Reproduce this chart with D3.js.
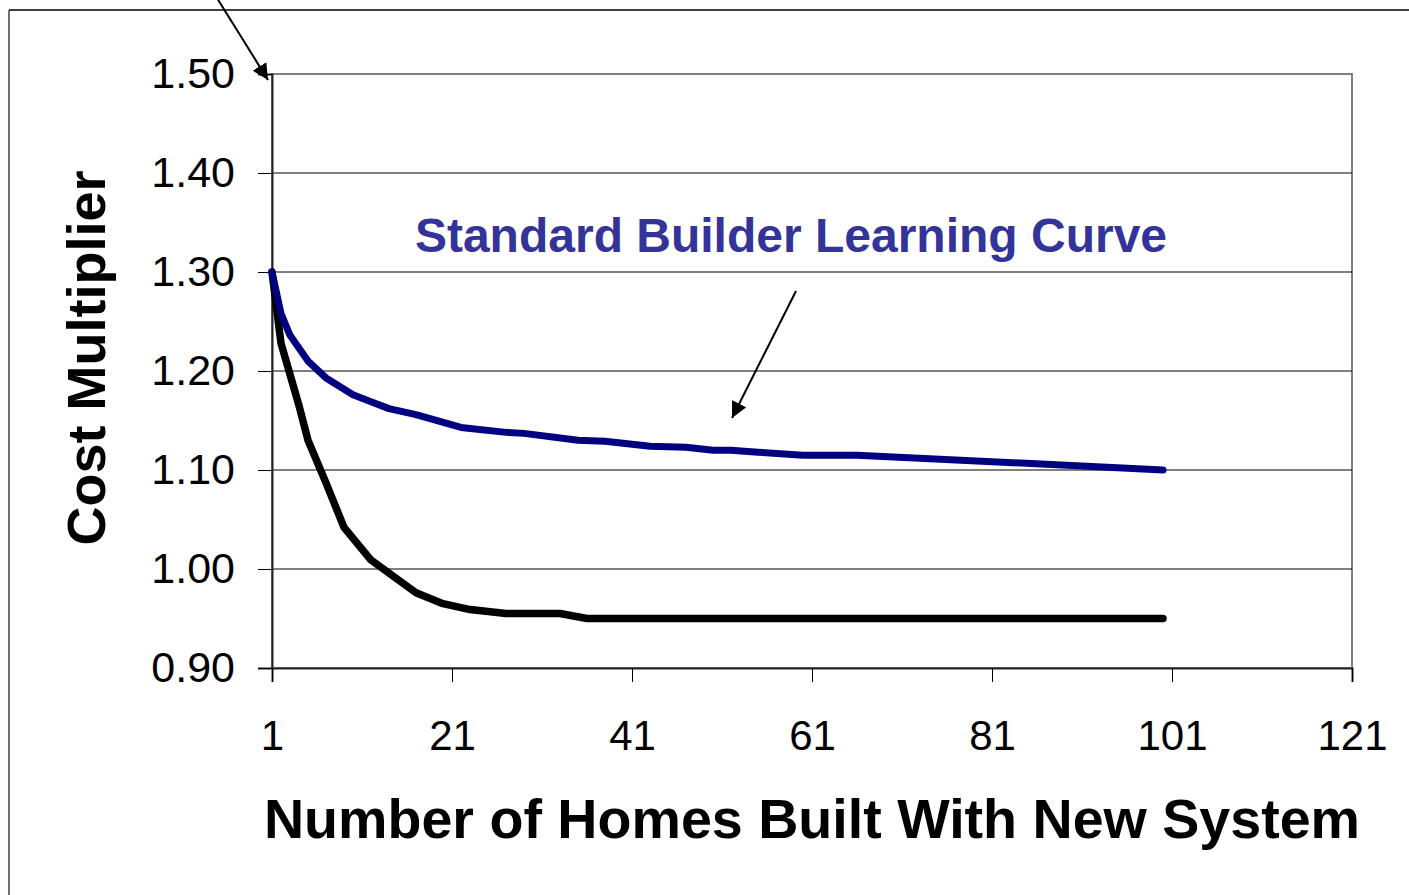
<!DOCTYPE html>
<html>
<head>
<meta charset="utf-8">
<script src="https://cdn.jsdelivr.net/npm/d3@7"></script>
<style>
  body { margin: 0; background: #fff; }
  svg { display: block; font-family: "Liberation Sans", Arial, sans-serif; }
</style>
</head>
<body>
<svg id="chart"></svg>
<script>
var width = 1409;
var height = 895;

// homes built (x) and cost multiplier (y)
var homesStandard = [1, 2, 3, 5, 7, 10, 12, 14, 17, 22, 27, 29, 35, 38, 43, 47, 50, 52, 55, 60, 66, 100];
var costStandard = [1.300, 1.258, 1.236, 1.210, 1.193, 1.176, 1.169, 1.162, 1.156, 1.143, 1.138, 1.137, 1.130, 1.129, 1.124, 1.123, 1.120, 1.120, 1.118, 1.115, 1.115, 1.100];

var homesNew = [1, 2, 4, 5, 7, 9, 12, 17, 20, 23, 27, 33, 36, 100];
var costNew = [1.300, 1.228, 1.165, 1.130, 1.087, 1.042, 1.009, 0.976, 0.965, 0.959, 0.955, 0.955, 0.950, 0.950];

var xTicks = [1, 21, 41, 61, 81, 101, 121];
var yTicks = [0.90, 1.00, 1.10, 1.20, 1.30, 1.40, 1.50];

var svg = d3.select("#chart")
  .attr("width", width)
  .attr("height", height);

var x = d3.scaleLinear().domain([1, 121]).range([272, 1352]);
var y = d3.scaleLinear().domain([0.9, 1.5]).range([668, 74]);

// outer frame (only top and left edge visible)
svg.append("line").attr("x1", 9).attr("y1", 10).attr("x2", 1409).attr("y2", 10)
  .style("stroke", "#404040").style("stroke-width", 2);
svg.append("line").attr("x1", 9).attr("y1", 10).attr("x2", 9).attr("y2", 895)
  .style("stroke", "#404040").style("stroke-width", 1.5);

// plot area border
svg.append("rect")
  .attr("x", x(1)).attr("y", y(1.5))
  .attr("width", x(121) - x(1)).attr("height", y(0.9) - y(1.5))
  .style("fill", "none").style("stroke", "#808080").style("stroke-width", 2);

// gridlines
svg.append("g").selectAll("line")
  .data(yTicks.filter(function (d) { return d > 0.95 && d < 1.45; }))
  .enter().append("line")
  .attr("x1", x(1)).attr("x2", x(121))
  .attr("y1", function (d) { return y(d); })
  .attr("y2", function (d) { return y(d); })
  .style("stroke", "#000").style("stroke-width", 1);

// y axis
var yAxis = svg.append("g")
  .attr("transform", "translate(" + x(1) + ",0)")
  .call(d3.axisLeft(y).tickValues(yTicks).tickSize(14).tickPadding(23).tickFormat(d3.format(".2f")));
yAxis.select(".domain").style("stroke", "#222").style("stroke-width", 2);
yAxis.selectAll(".tick line").style("stroke", "#000");
yAxis.selectAll("text").style("font-size", "43px").style("fill", "#000")
  .style("font-family", "'Liberation Sans', Arial, sans-serif");

// x axis
var xAxis = svg.append("g")
  .attr("transform", "translate(0," + y(0.9) + ")")
  .call(d3.axisBottom(x).tickValues(xTicks).tickSize(14).tickPadding(38).tickFormat(d3.format("d")));
xAxis.select(".domain").style("stroke", "#222").style("stroke-width", 2);
xAxis.selectAll(".tick line").style("stroke", "#000");
xAxis.selectAll("text").style("font-size", "42px").style("fill", "#000")
  .style("font-family", "'Liberation Sans', Arial, sans-serif");

var line = d3.line()
  .x(function (d) { return x(d[0]); })
  .y(function (d) { return y(d[1]); });

// new system curve (drawn first, standard curve lies over it)
svg.append("path")
  .datum(d3.zip(homesNew, costNew))
  .attr("d", line)
  .style("fill", "none").style("stroke", "#000")
  .style("stroke-width", 7.5).style("stroke-linecap", "round").style("stroke-linejoin", "round");

svg.append("path")
  .datum(d3.zip(homesStandard, costStandard))
  .attr("d", line)
  .style("fill", "none").style("stroke", "#000080")
  .style("stroke-width", 7).style("stroke-linecap", "round").style("stroke-linejoin", "round");

// arrows
var defs = svg.append("defs");
defs.append("marker")
  .attr("id", "arrow")
  .attr("viewBox", "0 0 10 10")
  .attr("refX", 10).attr("refY", 5)
  .attr("markerWidth", 8).attr("markerHeight", 8)
  .attr("markerUnits", "strokeWidth")
  .attr("orient", "auto")
  .append("path").attr("d", "M0,0 L10,5 L0,10 z").style("fill", "#000");

svg.append("line")
  .attr("x1", 212).attr("y1", -10).attr("x2", 268).attr("y2", 80)
  .style("stroke", "#000").style("stroke-width", 2).attr("marker-end", "url(#arrow)");
svg.append("line")
  .attr("x1", 796).attr("y1", 291).attr("x2", 732).attr("y2", 418)
  .style("stroke", "#000").style("stroke-width", 2).attr("marker-end", "url(#arrow)");

// annotation
svg.append("text")
  .attr("x", 791).attr("y", 252)
  .attr("text-anchor", "middle")
  .style("font-size", "48px").style("font-weight", "bold").style("fill", "#333399")
  .text("Standard Builder Learning Curve");

// axis titles
svg.append("text")
  .attr("x", 812).attr("y", 838)
  .attr("text-anchor", "middle")
  .style("font-size", "55.6px").style("font-weight", "bold").style("fill", "#000")
  .text("Number of Homes Built With New System");

svg.append("text")
  .attr("transform", "translate(105,358) rotate(-90)")
  .attr("text-anchor", "middle")
  .style("font-size", "54px").style("font-weight", "bold").style("fill", "#000")
  .text("Cost Multiplier");
</script>
</body>
</html>
